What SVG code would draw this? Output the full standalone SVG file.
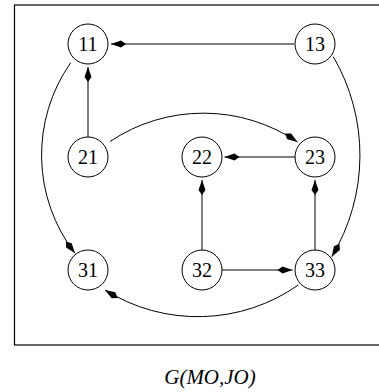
<svg xmlns="http://www.w3.org/2000/svg" width="379" height="392" viewBox="0 0 379 392">
<style>
.node circle{fill:#fff;stroke:#000;stroke-width:1}
.node text{font-family:"Liberation Serif","Times New Roman",serif;font-size:20px;text-anchor:middle;fill:#000}
.edge{fill:none;stroke:#000;stroke-width:1;marker-end:url(#ah)}
.cap{font-family:"Liberation Serif","Times New Roman",serif;font-size:21px;font-style:italic;text-anchor:middle;fill:#000}
</style>
<defs>
<marker id="ah" markerUnits="userSpaceOnUse" markerWidth="16" markerHeight="8" refX="15" refY="4" orient="auto" overflow="visible">
<path d="M0,4 L5,0.5 L15,4 L5,7.5 Z" fill="#000"/>
</marker>
</defs>
<rect x="14.5" y="5" width="380" height="340" fill="none" stroke="#000" stroke-width="1.2"/>
<g id="connectors">
<path class="edge" d="M294,44 L111,44"/>
<path class="edge" d="M88,137 L88,67"/>
<path class="edge" d="M295,157 L224.5,157"/>
<path class="edge" d="M202,250 L202,180"/>
<path class="edge" d="M315,250 L315,180"/>
<path class="edge" d="M222,270 L292.5,270"/>
<path class="edge" d="M110,141.5 A168,168 0 0 1 297.5,142"/>
<path class="edge" d="M70.7,62.7 A161,161 0 0 0 75,253.3"/>
<path class="edge" d="M333.3,56.7 A196,196 0 0 1 331.7,256.7"/>
<path class="edge" d="M298.3,285 A175,175 0 0 1 105,290"/>
</g>
<g id="n11" class="node"><circle cx="88" cy="44" r="20"/><text x="88" y="51">11</text></g>
<g id="n13" class="node"><circle cx="315" cy="44" r="20"/><text x="315" y="51">13</text></g>
<g id="n21" class="node"><circle cx="88" cy="157" r="20"/><text x="88" y="164">21</text></g>
<g id="n22" class="node"><circle cx="202" cy="157" r="20"/><text x="202" y="164">22</text></g>
<g id="n23" class="node"><circle cx="315" cy="157" r="20"/><text x="315" y="164">23</text></g>
<g id="n31" class="node"><circle cx="88" cy="270" r="20"/><text x="88" y="277">31</text></g>
<g id="n32" class="node"><circle cx="202" cy="270" r="20"/><text x="202" y="277">32</text></g>
<g id="n33" class="node"><circle cx="315" cy="270" r="20"/><text x="315" y="277">33</text></g>
<text class="cap" x="210" y="384">G(MO,JO)</text>
</svg>
